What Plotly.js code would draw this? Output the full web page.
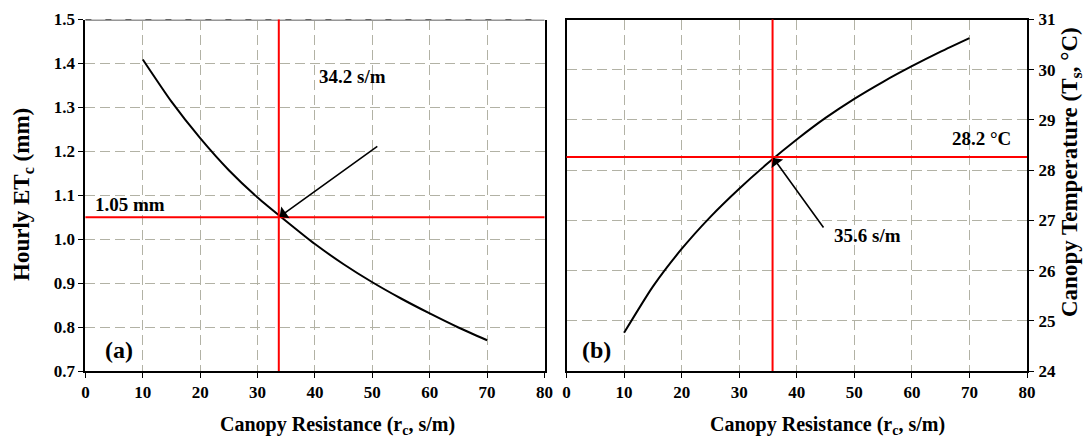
<!DOCTYPE html>
<html>
<head>
<meta charset="utf-8">
<script src="https://cdn.plot.ly/plotly-3.0.1.min.js"></script>
<style>html,body{margin:0;padding:0;background:#fff}#chart{width:1085px;height:438px}</style>
</head>
<body>
<div id="chart"></div>
<script>
// ---- data ----
const rcA = [10, 15, 20, 25, 30, 35, 40, 45, 50, 55, 60, 65, 70];
const etc = [1.409, 1.313, 1.230, 1.157, 1.095, 1.041, 0.989, 0.943, 0.902, 0.865, 0.831, 0.799, 0.770];
const rcB = [10, 15, 20, 25, 30, 35, 40, 45, 50, 55, 60, 65, 70];
const tempC = [24.76, 25.68, 26.43, 27.07, 27.63, 28.14, 28.61, 29.04, 29.42, 29.76, 30.07, 30.36, 30.63];
const xTicks = [0, 10, 20, 30, 40, 50, 60, 70, 80];
const etTicks = [0.7, 0.8, 0.9, 1.0, 1.1, 1.2, 1.3, 1.4, 1.5];
const etTickText = ['0.7','0.8','0.9','1.0','1.1','1.2','1.3','1.4','1.5'];
const tTicks = [24, 25, 26, 27, 28, 29, 30, 31];
// marker lines (from the figure)
const etMark = 1.05, rcMarkA = 33.7;      // panel (a)
const tMark = 28.26, rcMarkB = 35.8;      // panel (b)
const labelA_rc = '34.2 s/m', labelA_et = '1.05 mm';
const labelB_rc = '35.6 s/m', labelB_t = '28.2 °C';
const xTitle = 'Canopy Resistance (r<sub>c</sub>, s/m)';
const yTitleA = 'Hourly ET<sub>c</sub> (mm)';
const yTitleB = 'Canopy Temperature (T<sub>s</sub>, °C)';

const FONT = 'Liberation Serif, Times New Roman, serif';
const gridC = 'rgb(178,178,165)';

const traces = [
  {x: rcA, y: etc, xaxis: 'x', yaxis: 'y', mode: 'lines', line: {color: '#000', width: 2, shape: 'spline', smoothing: 0.6}, hoverinfo: 'skip'},
  {x: rcB, y: tempC, xaxis: 'x2', yaxis: 'y2', mode: 'lines', line: {color: '#000', width: 2, shape: 'spline', smoothing: 0.6}, hoverinfo: 'skip'}
];

const W = 1085, H = 438;
const xd1 = [85.4 / W, 544.5 / W];
const xd2 = [566.5 / W, 1027 / W];
const yd = [(H - 371) / H, (H - 19.5) / H];

const axX = {
  range: [0, 80], tickvals: xTicks, ticks: 'outside', ticklen: 5, tickcolor: '#000', tickwidth: 1,
  showgrid: true, gridcolor: gridC, griddash: '10px,5px', gridwidth: 1,
  showline: true, linecolor: '#000', linewidth: 2, zeroline: false,
  tickfont: {family: FONT, size: 17, color: '#000', weight: 'bold'},
  ticklabelstandoff: 0
};

const titleFont = (s) => ({family: FONT, size: s, color: '#000'});

const layout = {
  width: W, height: H,
  margin: {l: 0, r: 0, t: 0, b: 0},
  paper_bgcolor: '#fff', plot_bgcolor: '#fff',
  showlegend: false,
  xaxis: Object.assign({}, axX, {domain: xd1, anchor: 'y'}),
  xaxis2: Object.assign({}, axX, {domain: xd2, anchor: 'y2', mirror: true}),
  yaxis: {
    domain: yd, anchor: 'x', range: [0.7, 1.5], tickvals: etTicks, ticktext: etTickText,
    ticks: 'outside', ticklen: 5, tickcolor: '#000',
    showgrid: true, gridcolor: gridC, griddash: '10px,5px', gridwidth: 1,
    showline: true, linecolor: '#000', linewidth: 2, mirror: true, zeroline: false,
    tickfont: {family: FONT, size: 17, color: '#000', weight: 'bold'},
    ticklabelstandoff: 0
  },
  yaxis2: {
    domain: yd, anchor: 'x2', side: 'right', range: [24, 31], tickvals: tTicks,
    ticks: 'outside', ticklen: 5, tickcolor: '#000',
    showgrid: true, gridcolor: gridC, griddash: '10px,5px', gridwidth: 1,
    showline: true, linecolor: '#000', linewidth: 2, mirror: true, zeroline: false,
    tickfont: {family: FONT, size: 17, color: '#000', weight: 'bold'},
    ticklabelstandoff: 1
  },
  shapes: [
    // gray top border of panel (a)
    {type: 'line', xref: 'x domain', yref: 'y', x0: 0, x1: 1, y0: etTicks[etTicks.length - 1], y1: etTicks[etTicks.length - 1], line: {color: 'rgb(150,150,150)', width: 3}, layer: 'above'},
    {type: 'line', xref: 'x domain', yref: 'y', x0: 0, x1: 1, y0: etTicks[etTicks.length - 1], y1: etTicks[etTicks.length - 1], line: {color: '#000', width: 1, dash: '6px,14px'}, layer: 'above'},
    // red marker lines
    {type: 'line', xref: 'x domain', yref: 'y', x0: 0, x1: 1, y0: etMark, y1: etMark, line: {color: '#ff0000', width: 2}},
    {type: 'line', xref: 'x', yref: 'y domain', x0: rcMarkA, x1: rcMarkA, y0: 0, y1: 1, line: {color: '#ff0000', width: 2}},
    {type: 'line', xref: 'x2 domain', yref: 'y2', x0: 0, x1: 1, y0: tMark, y1: tMark, line: {color: '#ff0000', width: 2}},
    {type: 'line', xref: 'x2', yref: 'y2 domain', x0: rcMarkB, x1: rcMarkB, y0: 0, y1: 1, line: {color: '#ff0000', width: 2}}
  ],
  annotations: [
    // axis titles
    {xref: 'paper', yref: 'paper', x: 337 / W, y: 1 - 425 / H, text: '<b>' + xTitle + '</b>', showarrow: false, xanchor: 'center', yanchor: 'middle', font: titleFont(20)},
    {xref: 'paper', yref: 'paper', x: 827 / W, y: 1 - 425 / H, text: '<b>' + xTitle + '</b>', showarrow: false, xanchor: 'center', yanchor: 'middle', font: titleFont(20)},
    {xref: 'paper', yref: 'paper', x: 23 / W, y: 1 - 195 / H, text: '<b>' + yTitleA + '</b>', textangle: -90, showarrow: false, xanchor: 'center', yanchor: 'middle', font: titleFont(23)},
    {xref: 'paper', yref: 'paper', x: 1071 / W, y: 1 - 172 / H, text: '<b>' + yTitleB + '</b>', textangle: -90, showarrow: false, xanchor: 'center', yanchor: 'middle', font: titleFont(23)},
    // arrows
    {xref: 'x', yref: 'y', x: rcMarkA, y: etMark, text: '', showarrow: true, arrowhead: 1, arrowsize: 1.5, arrowwidth: 1.6, arrowcolor: '#000', axref: 'pixel', ayref: 'pixel', ax: 100, ay: -72, standoff: 1},
    {xref: 'x2', yref: 'y2', x: rcMarkB, y: tMark, text: '', showarrow: true, arrowhead: 1, arrowsize: 1.5, arrowwidth: 1.6, arrowcolor: '#000', axref: 'pixel', ayref: 'pixel', ax: 52, ay: 72, standoff: 1},
    // labels
    {xref: 'x', yref: 'y', x: rcMarkA, y: etMark, text: '<b>' + labelA_rc + '</b>', showarrow: false, xanchor: 'center', yanchor: 'middle', xshift: 74, yshift: 141, font: titleFont(19)},
    {xref: 'x domain', yref: 'y', x: 0, y: etMark, text: '<b>' + labelA_et + '</b>', showarrow: false, xanchor: 'left', yanchor: 'bottom', xshift: 8, yshift: 0, font: titleFont(19)},
    {xref: 'x2', yref: 'y2', x: rcMarkB, y: tMark, text: '<b>' + labelB_rc + '</b>', showarrow: false, xanchor: 'left', yanchor: 'middle', xshift: 59, yshift: -78, font: titleFont(19)},
    {xref: 'x2 domain', yref: 'y2', x: 1, y: tMark, text: '<b>' + labelB_t + '</b>', showarrow: false, xanchor: 'right', yanchor: 'bottom', xshift: -14, yshift: 6, font: titleFont(19)},
    {xref: 'x domain', yref: 'y domain', x: 0, y: 0, text: '<b>(a)</b>', showarrow: false, xanchor: 'left', yanchor: 'bottom', xshift: 18, yshift: 6, font: titleFont(24)},
    {xref: 'x2 domain', yref: 'y2 domain', x: 0, y: 0, text: '<b>(b)</b>', showarrow: false, xanchor: 'left', yanchor: 'bottom', xshift: 13, yshift: 6, font: titleFont(24)}
  ]
};

Plotly.newPlot('chart', traces, layout, {displayModeBar: false, staticPlot: true});
</script>
</body>
</html>
